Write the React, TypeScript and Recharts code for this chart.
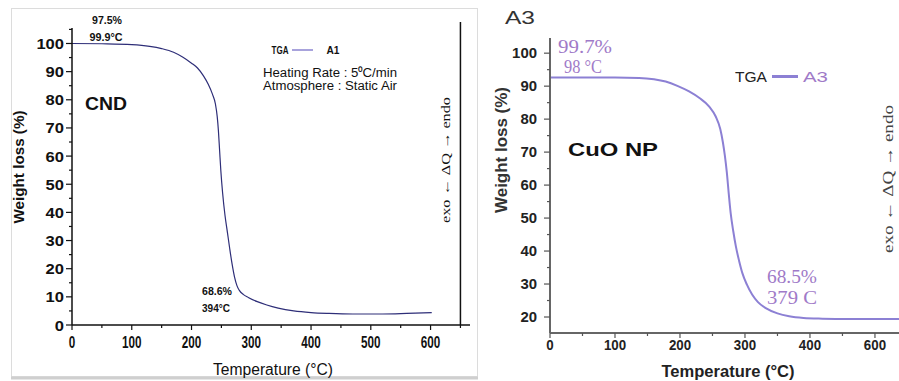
import React from 'react';
import { LineChart, Line, XAxis, YAxis, ReferenceLine } from 'recharts';

// A1 (CND) TGA curve
const cndTemp = [0, 50, 100, 130, 150, 170, 185, 200, 210, 220, 228, 235, 240, 243, 245, 247, 249, 252, 256, 260, 264, 268, 272, 276, 280, 287, 295, 310, 326, 345, 371, 400, 430, 470, 520, 560, 602];
const cndWeight = [100, 99.9, 99.6, 99.0, 98.2, 96.9, 95.2, 93.0, 91.3, 88.5, 85.5, 82, 78.5, 74, 69, 62, 55, 47, 39, 33, 27, 21.5, 17, 14, 12.3, 10.8, 9.8, 8.3, 7.1, 6.0, 5.0, 4.4, 4.1, 3.9, 3.9, 4.1, 4.4];

// A3 (CuO NP) TGA curve
const cuoTemp = [0, 50, 100, 137, 160, 178, 196, 214, 230, 245, 255, 262, 266, 269, 272, 275, 278, 282, 286, 291, 296, 303, 311, 320, 332, 350, 368, 390, 419, 460, 500, 537];
const cuoWeight = [92.6, 92.6, 92.6, 92.5, 92.1, 91.4, 90.1, 88.4, 86.4, 83.8, 80.8, 77, 73, 69, 64, 57.5, 51.5, 46, 41.4, 37, 33.3, 29.8, 26.8, 24.5, 22.7, 21.1, 20.2, 19.7, 19.5, 19.4, 19.4, 19.4];

const cndXTicks = [0, 100, 200, 300, 400, 500, 600];
const cndXTickLabels = ['0', '100', '200', '300', '400', '500', '600'];
const cndXMinor = [50, 150, 250, 350, 450, 550, 650];
const cndYTicks = [0, 10, 20, 30, 40, 50, 60, 70, 80, 90, 100];
const cndYMinor = [5, 15, 25, 35, 45, 55, 65, 75, 85, 95, 105];

const cuoXTicks = [0, 100, 200, 300, 400, 500];
const cuoXTickLabels = ['0', '100', '200', '300', '400', '600'];
const cuoXMinor = [50, 150, 250, 350, 450];
const cuoYTicks = [20, 30, 40, 50, 60, 70, 80, 90, 100];
const cuoYTickLabels = ['20', '30', '40', '50', '60', '70', '80', '90', '100'];
const cuoYMinor = [25, 35, 45, 55, 65, 75, 85, 95];

const cndData = cndTemp.map((t, i) => ({ t, w: cndWeight[i] }));
const cuoData = cuoTemp.map((t, i) => ({ t, w: cuoWeight[i] }));

const SANS = "'Liberation Sans', Arial, sans-serif";
const SERIF = "'Liberation Serif', 'Times New Roman', serif";
const PURPLE = '#a07ac8';

interface TickOpts {
  labels: Map<number, string>;
  major: number;
  minor: number;
  off: number;
  size: number;
  charW: number;
  stroke: string;
  fill: string;
}

function XTick(props: any) {
  const { x, y, payload, o } = props as { x: number; y: number; payload: { value: number }; o: TickOpts };
  const lab = o.labels.get(payload.value);
  return (
    <g>
      <line x1={x} x2={x} y1={y} y2={y + (lab != null ? o.major : o.minor)} stroke={o.stroke} strokeWidth={1.2} />
      {lab != null && (
        <text x={x} y={y + o.off} textAnchor="middle" dominantBaseline="central" fontFamily={SANS}
          fontWeight="bold" fontSize={o.size} fill={o.fill} textLength={lab.length * o.charW} lengthAdjust="spacingAndGlyphs">
          {lab}
        </text>
      )}
    </g>
  );
}

function YTick(props: any) {
  const { x, y, payload, o } = props as { x: number; y: number; payload: { value: number }; o: TickOpts };
  const lab = o.labels.get(payload.value);
  return (
    <g>
      <line x1={x - (lab != null ? o.major : o.minor)} x2={x} y1={y} y2={y} stroke={o.stroke} strokeWidth={1.2} />
      {lab != null && (
        <text x={x - o.off} y={y} textAnchor="end" dominantBaseline="central" fontFamily={SANS}
          fontWeight="bold" fontSize={o.size} fill={o.fill} textLength={lab.length * o.charW} lengthAdjust="spacingAndGlyphs">
          {lab}
        </text>
      )}
    </g>
  );
}

const cndX: TickOpts = { labels: new Map(cndXTicks.map((v, i) => [v, cndXTickLabels[i]])), major: 5, minor: 3, off: 17.5, size: 16, charW: 6.5, stroke: '#111', fill: '#111' };
const cndY: TickOpts = { labels: new Map(cndYTicks.map((v) => [v, String(v)])), major: 6, minor: 3, off: 8, size: 15, charW: 9.2, stroke: '#111', fill: '#111' };
const cuoX: TickOpts = { labels: new Map(cuoXTicks.map((v, i) => [v, cuoXTickLabels[i]])), major: 5, minor: 3, off: 11.5, size: 14, charW: 7.4, stroke: '#555', fill: '#222' };
const cuoY: TickOpts = { labels: new Map(cuoYTicks.map((v, i) => [v, cuoYTickLabels[i]])), major: 6, minor: 3, off: 13, size: 14, charW: 8.3, stroke: '#555', fill: '#222' };

function T(p: { x: number; y: number; size: number; len?: number; fill?: string; weight?: string; family?: string; rot?: number; anchor?: 'start' | 'middle' | 'end'; italic?: boolean; children: React.ReactNode }) {
  return (
    <text x={p.x} y={p.y} fontSize={p.size} fill={p.fill ?? '#111'} fontWeight={p.weight ?? 'normal'} fontFamily={p.family ?? SANS}
      fontStyle={p.italic ? 'italic' : 'normal'} textAnchor={p.anchor ?? 'middle'} dominantBaseline="central"
      transform={p.rot ? `rotate(${p.rot} ${p.x} ${p.y})` : undefined}
      textLength={p.len} lengthAdjust={p.len ? 'spacingAndGlyphs' : undefined}>
      {p.children}
    </text>
  );
}

export default function App() {
  return (
    <div style={{ position: 'absolute', left: 0, top: 0, width: 899, height: 381, background: '#fff', overflow: 'hidden' }}>
      <div style={{ position: 'absolute', left: 0, top: 0 }}>
        <LineChart width={485} height={381} data={cndData} margin={{ top: 28, right: 15, bottom: 26, left: 0 }}>
          <XAxis dataKey="t" type="number" domain={[0, 666]} allowDataOverflow ticks={[...cndXTicks, ...cndXMinor].sort((a, b) => a - b)}
            interval={0} tickSize={0} tickMargin={0} height={30} axisLine={{ stroke: '#111', strokeWidth: 1.5 }} tickLine={false}
            tick={(p: any) => <XTick {...p} o={cndX} />} />
          <YAxis type="number" domain={[0, 105.5]} allowDataOverflow ticks={[...cndYTicks, ...cndYMinor].sort((a, b) => a - b)}
            interval={0} tickSize={0} tickMargin={0} width={72} axisLine={{ stroke: '#111', strokeWidth: 1.5 }} tickLine={false}
            tick={(p: any) => <YTick {...p} o={cndY} />} />
          <ReferenceLine segment={[{ x: 650, y: 0 }, { x: 650, y: 107.6 }]} ifOverflow="visible" stroke="#111" strokeWidth={1.5} />
          <Line type="monotone" dataKey="w" stroke="#2e2e78" strokeWidth={1.2} dot={false} isAnimationActive={false} />
        </LineChart>
      </div>
      <div style={{ position: 'absolute', left: 488, top: 0 }}>
        <LineChart width={411} height={381} data={cuoData} margin={{ top: 38, right: 0, bottom: 18, left: 0 }}>
          <XAxis dataKey="t" type="number" domain={[0, 537]} allowDataOverflow ticks={[...cuoXTicks, ...cuoXMinor].sort((a, b) => a - b)}
            interval={0} tickSize={0} tickMargin={0} height={30} axisLine={{ stroke: '#666', strokeWidth: 2 }} tickLine={false}
            tick={(p: any) => <XTick {...p} o={cuoX} />} />
          <YAxis type="number" domain={[15.15, 104.6]} allowDataOverflow ticks={[...cuoYTicks, ...cuoYMinor].sort((a, b) => a - b)}
            interval={0} tickSize={0} tickMargin={0} width={62} axisLine={{ stroke: '#666', strokeWidth: 2 }} tickLine={false}
            tick={(p: any) => <YTick {...p} o={cuoY} />} />
          <Line type="monotone" dataKey="w" stroke="#8c80d4" strokeWidth={2} dot={false} isAnimationActive={false} />
        </LineChart>
      </div>
      <svg width={899} height={381} style={{ position: 'absolute', left: 0, top: 0, pointerEvents: 'none' }}>
        {/* left panel frame */}
        <rect x={11.5} y={8.5} width={466} height={368} fill="none" stroke="#dcdcdc" strokeWidth={1} />
        <line x1={11} x2={478} y1={378} y2={378} stroke="#cfcfcf" strokeWidth={3} />

        {/* left panel notes */}
        <T x={107} y={20} size={10.5} weight="bold" len={30}>97.5%</T>
        <T x={106} y={37} size={10.5} weight="bold" len={33}>99.9°C</T>
        <T x={106} y={104} size={18} weight="bold" len={42}>CND</T>
        <T x={280} y={50} size={10.5} weight="bold" len={17}>TGA</T>
        <line x1={292} x2={313} y1={50} y2={50} stroke="#8b85d0" strokeWidth={1.5} />
        <T x={333} y={50} size={10.5} weight="bold" len={13}>A1</T>
        <T x={263} y={72.5} size={12.5} anchor="start" len={134}>Heating Rate : 5⁰C/min</T>
        <T x={263} y={86} size={12.5} anchor="start" len={134}>Atmosphere : Static Air</T>
        <T x={217} y={291} size={10.5} weight="bold" len={30}>68.6%</T>
        <T x={216} y={307.5} size={10.5} weight="bold" len={28}>394°C</T>
        <T x={18} y={167} size={15} weight="bold" rot={-90} len={113}>Weight loss (%)</T>
        <T x={273} y={369} size={16} len={120}>Temperature (°C)</T>
        <T x={445} y={160} size={13} family={SERIF} rot={-90} len={126}>exo ← ΔQ → endo</T>

        {/* right panel notes */}
        <T x={520} y={18} size={18} fill="#333" len={30}>A3</T>
        <T x={585} y={46.5} size={18} family={SERIF} fill={PURPLE} len={54}>99.7%</T>
        <T x={583} y={66} size={19} family={SERIF} fill={PURPLE} len={38}>98 °C</T>
        <T x={751} y={76.5} size={15} fill="#222" len={32}>TGA</T>
        <line x1={772} x2={798} y1={76.5} y2={76.5} stroke="#8c80d4" strokeWidth={3} />
        <T x={815.5} y={76.5} size={15} fill={PURPLE} len={25}>A3</T>
        <T x={613} y={150} size={18} weight="bold" len={90}>CuO NP</T>
        <T x={792} y={276.5} size={18} family={SERIF} fill={PURPLE} len={50}>68.5%</T>
        <T x={792} y={297.5} size={18} family={SERIF} fill={PURPLE} len={50}>379 C</T>
        <T x={501} y={150} size={16} weight="bold" fill="#333" rot={-90} len={126}>Weight loss (%)</T>
        <T x={728} y={371} size={16} weight="bold" fill="#222" len={133}>Temperature (°C)</T>
        <T x={888} y={179} size={15} family={SERIF} fill="#444" rot={-90} len={148}>exo ← ΔQ → endo</T>
      </svg>
    </div>
  );
}
